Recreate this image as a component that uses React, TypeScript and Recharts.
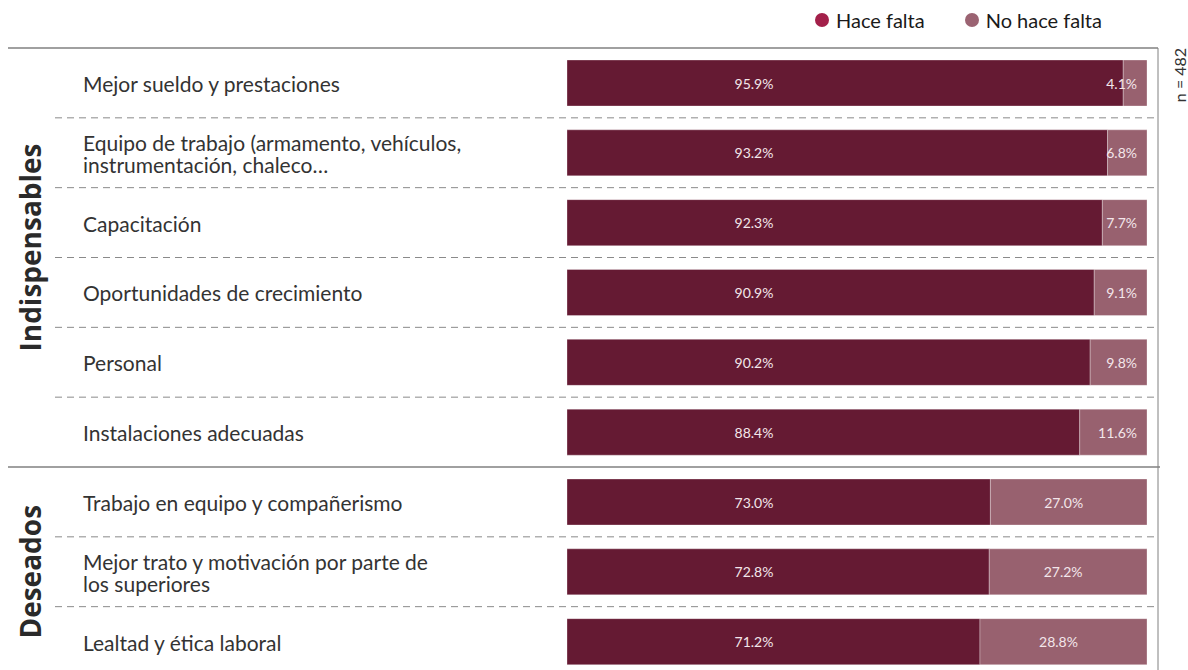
import React from "react";
import { BarChart, Bar, XAxis, YAxis, LabelList } from "recharts";

const CATEGORIES = [
  "Mejor sueldo y prestaciones",
  "Equipo de trabajo (armamento, vehículos,\ninstrumentación, chaleco…",
  "Capacitación",
  "Oportunidades de crecimiento",
  "Personal",
  "Instalaciones adecuadas",
  "Trabajo en equipo y compañerismo",
  "Mejor trato y motivación por parte de\nlos superiores",
  "Lealtad y ética laboral",
];
const HACE_FALTA = [95.9, 93.2, 92.3, 90.9, 90.2, 88.4, 73.0, 72.8, 71.2];
const NO_HACE_FALTA = [4.1, 6.8, 7.7, 9.1, 9.8, 11.6, 27.0, 27.2, 28.8];
const GROUP_NAMES = ["Indispensables", "Deseados"];
const GROUP_SIZES = [6, 3];
const SERIES_NAMES = ["Hace falta", "No hace falta"];
const SAMPLE = "n = 482";

const DARK = "#651a33";
const LIGHT = "#98616f";
const LEGEND_DARK = "#a3204a";
const LEGEND_LIGHT = "#9b6372";
const FONT = "Lato, 'Noto Sans', sans-serif";
const TEXT = "#333";

const data = CATEGORIES.map((name, i) => ({
  name,
  hace: HACE_FALTA[i],
  no: NO_HACE_FALTA[i],
}));

// group start / end indexes
const groupStarts: number[] = [];
const groupEnds: number[] = [];
GROUP_SIZES.reduce((acc, n) => {
  groupStarts.push(acc);
  groupEnds.push(acc + n - 1);
  return acc + n;
}, 0);

const RIGHT_EDGE = 1158;

const CategoryTick = (props: any) => {
  const { y, payload, index } = props;
  const half = payload && payload.offset ? payload.offset : 34.9;
  const lines = String(payload.value).split("\n");
  const lh = 22;
  const top = y - half;
  const bottom = y + half;
  const gi = groupStarts.indexOf(index);
  const isGroupEnd = groupEnds.includes(index);
  const isLast = index === CATEGORIES.length - 1;
  // first group label sits a little above its band centre in the original
  const gy = top + (gi >= 0 ? GROUP_SIZES[gi] : 0) * half - (gi === 0 ? 10 : 0);
  return (
    <g>
      <text
        x={83}
        y={y - ((lines.length - 1) * lh) / 2}
        fontFamily={FONT}
        fontSize={21}
        fill={TEXT}
        dominantBaseline="central"
      >
        {lines.map((l, k) => (
          <tspan key={k} x={83} dy={k === 0 ? 0 : lh}>
            {l}
          </tspan>
        ))}
      </text>
      {index === 0 && (
        <>
          <line x1={8} x2={RIGHT_EDGE} y1={top} y2={top} stroke="#808080" strokeWidth={1.5} />
          <line x1={RIGHT_EDGE} x2={RIGHT_EDGE} y1={top} y2={700} stroke="#808080" strokeWidth={1} />
        </>
      )}
      {!isLast && !isGroupEnd && (
        <line
          x1={55}
          x2={RIGHT_EDGE}
          y1={bottom}
          y2={bottom}
          stroke="#8a8a8a"
          strokeWidth={1}
          strokeDasharray="7 5"
        />
      )}
      {!isLast && isGroupEnd && (
        <line x1={8} x2={RIGHT_EDGE + 2} y1={bottom} y2={bottom} stroke="#808080" strokeWidth={1.5} />
      )}
      {gi >= 0 && (
        <text
          x={30}
          y={gy}
          transform={`rotate(-90 30 ${gy})`}
          textAnchor="middle"
          dominantBaseline="central"
          fontFamily="'Open Sans', sans-serif"
          fontWeight={700}
          fontSize={28}
          fill="#2a2a2a"
        >
          {GROUP_NAMES[gi]}
        </text>
      )}
    </g>
  );
};

const fmt = (v: any) => `${Number(v).toFixed(1)}%`;

const HaceLabel = (p: any) => (
  <text
    x={p.x + 187}
    y={p.y + p.height / 2}
    textAnchor="middle"
    dominantBaseline="central"
    fontFamily={FONT}
    fontSize={14}
    fill="#f3e6ea"
  >
    {fmt(p.value)}
  </text>
);

const NoLabel = (p: any) => {
  const small = p.width < 80;
  return (
    <text
      x={small ? p.x + p.width - 10 : p.x + p.width / 2 - 5}
      y={p.y + p.height / 2}
      textAnchor={small ? "end" : "middle"}
      dominantBaseline="central"
      fontFamily={FONT}
      fontSize={14}
      fill="#f3e6ea"
    >
      {fmt(p.value)}
    </text>
  );
};

const LegendItem = ({ color, label }: { color: string; label: string }) => (
  <div style={{ display: "flex", alignItems: "center", marginRight: 40 }}>
    <span
      style={{
        width: 14,
        height: 14,
        borderRadius: 7,
        background: color,
        display: "inline-block",
        marginRight: 7,
      }}
    />
    <span style={{ fontSize: 20, color: "#1a1a1a" }}>{label}</span>
  </div>
);

export default function App() {
  return (
    <div
      style={{
        position: "absolute",
        left: 0,
        top: 0,
        width: 1188,
        height: 670,
        overflow: "hidden",
        background: "#fff",
        fontFamily: FONT,
      }}
    >
      <div style={{ position: "absolute", left: 815, top: 8, display: "flex" }}>
        <LegendItem color={LEGEND_DARK} label={SERIES_NAMES[0]} />
        <LegendItem color={LEGEND_LIGHT} label={SERIES_NAMES[1]} />
      </div>
      <div
        style={{
          position: "absolute",
          left: 1179,
          top: 75,
          transform: "translate(-50%, -50%) rotate(-90deg)",
          whiteSpace: "nowrap",
          fontSize: 16,
          color: "#333",
        }}
      >
        {SAMPLE}
      </div>
      <BarChart
        width={1188}
        height={680}
        data={data}
        layout="vertical"
        margin={{ top: 48, right: 41, bottom: 3.5, left: 0 }}
      >
        <XAxis type="number" domain={[0, 100]} hide />
        <YAxis
          type="category"
          dataKey="name"
          width={567}
          interval={0}
          axisLine={false}
          tickLine={false}
          tick={<CategoryTick />}
        />
        <Bar
          dataKey="hace"
          name={SERIES_NAMES[0]}
          stackId="a"
          fill={DARK}
          barSize={46}
          stroke="rgba(255,255,255,0.3)"
          strokeWidth={1}
          isAnimationActive={false}
        >
          <LabelList dataKey="hace" content={<HaceLabel />} />
        </Bar>
        <Bar
          dataKey="no"
          name={SERIES_NAMES[1]}
          stackId="a"
          fill={LIGHT}
          barSize={46}
          stroke="rgba(255,255,255,0.3)"
          strokeWidth={1}
          isAnimationActive={false}
        >
          <LabelList dataKey="no" content={<NoLabel />} />
        </Bar>
      </BarChart>
    </div>
  );
}
